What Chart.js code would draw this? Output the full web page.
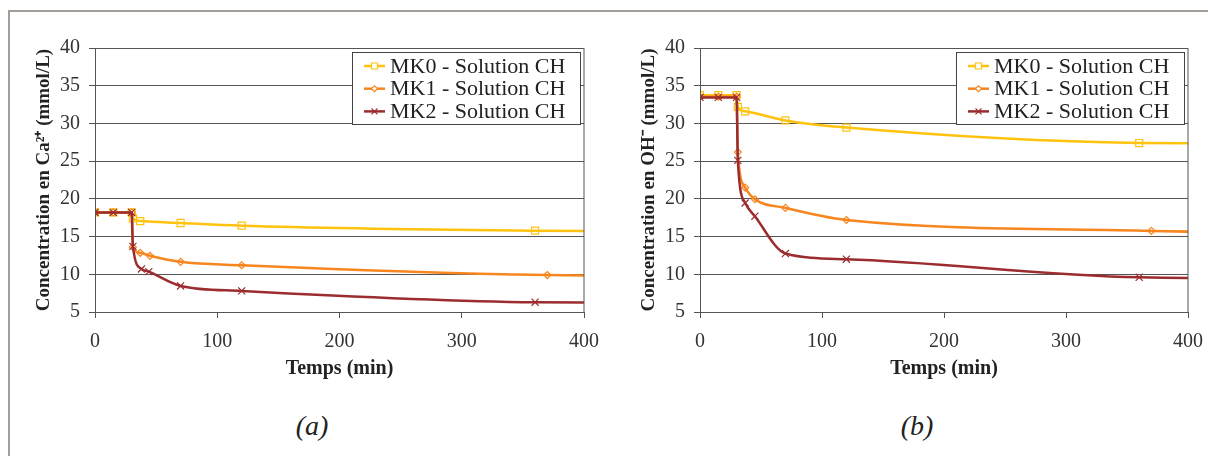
<!DOCTYPE html>
<html>
<head>
<meta charset="utf-8">
<script src="https://cdn.jsdelivr.net/npm/chart.js@4/dist/chart.umd.min.js"></script>
<style>
    body { margin: 0; background: #fff; width: 1208px; height: 456px; overflow: hidden; position: relative; font-family: 'Liberation Serif', serif; }
    .frame { position: absolute; left: 8px; top: 10px; width: 1220px; height: 460px; border-top: 2px solid #a59d97; border-left: 2px solid #a59d97; }
    canvas { position: absolute; top: 0; }
    .cap { position: absolute; top: 410px; width: 80px; text-align: center; font-style: italic; font-size: 28px; color: #222; }
</style>
</head>
<body>
<div class="frame"></div>
<canvas id="chartCa" width="604" height="400" style="left:0"></canvas>
<canvas id="chartOH" width="603" height="400" style="left:605px"></canvas>
<div class="cap" style="left:272px">(a)</div>
<div class="cap" style="left:877px">(b)</div>
<script>
const seriesLabels = ['MK0 - Solution CH', 'MK1 - Solution CH', 'MK2 - Solution CH'];
const seriesColors = ['#ffc20e', '#f7861f', '#9b2c2f'];
const pointStyles = ['rect', 'rectRot', 'crossRot'];
const pointRadii = [5, 3.5, 5];

// (a) Ca2+ (mmol/L) vs temps (min)
const caTimeMK0 = [0, 15, 30, 31, 37, 70, 120, 360, 1440];
const caMK0 = [18.2, 18.2, 18.2, 17.4, 17.05, 16.8, 16.45, 15.78, 14.8];
const caTimeMK1 = [0, 15, 30, 31, 37, 45, 70, 120, 370, 1440];
const caMK1 = [18.2, 18.2, 18.2, 13.6, 12.85, 12.45, 11.65, 11.2, 9.9, 8.9];
const caTimeMK2 = [0, 15, 30, 31, 38, 44, 70, 120, 360, 1440];
const caMK2 = [18.2, 18.2, 18.2, 13.7, 10.7, 10.35, 8.45, 7.8, 6.3, 5.6];

// (b) OH- (mmol/L) vs temps (min)
const ohTimeMK0 = [0, 15, 30, 31, 37, 70, 120, 360, 1440];
const ohMK0 = [33.75, 33.75, 33.75, 32.2, 31.6, 30.4, 29.45, 27.4, 26.6];
const ohTimeMK1 = [0, 15, 30, 31, 37, 45, 70, 120, 370, 1440];
const ohMK1 = [33.55, 33.55, 33.55, 26.2, 21.5, 19.95, 18.8, 17.2, 15.75, 12.5];
const ohTimeMK2 = [0, 15, 30, 31, 37, 45, 70, 120, 360, 1440];
const ohMK2 = [33.45, 33.45, 33.45, 25.1, 19.45, 17.7, 12.75, 12.0, 9.6, 8.6];

const xTicks = [0, 100, 200, 300, 400];
const yTicks = [5, 10, 15, 20, 25, 30, 35, 40];

const fontFamily = "'Liberation Serif', 'Times New Roman', serif";
const gridColor = '#555';

// plot border + legend box drawn on top of the chart
const boxPlugin = {
    id: 'boxPlugin',
    afterDraw(chart) {
        const ctx = chart.ctx;
        const a = chart.chartArea;
        ctx.save();
        ctx.strokeStyle = gridColor;
        ctx.lineWidth = 1;
        ctx.strokeRect(a.left + 0.5, a.top + 0.5, a.right - a.left - 0.5, a.bottom - a.top);

        const left = a.right - 232, top = a.top + 4, w = 228, h = 72;
        ctx.fillStyle = '#fff';
        ctx.fillRect(left, top, w, h);
        ctx.strokeStyle = '#444';
        ctx.strokeRect(left + 0.5, top + 0.5, w, h);

        ctx.font = '22px ' + fontFamily;
        ctx.textBaseline = 'middle';
        chart.data.datasets.forEach((ds, i) => {
            const y = top + 14 + i * 22.7;
            ctx.strokeStyle = ds.borderColor;
            ctx.lineWidth = 2.5;
            ctx.beginPath();
            ctx.moveTo(left + 12, y);
            ctx.lineTo(left + 33, y);
            ctx.stroke();
            ctx.lineWidth = 1.2;
            ctx.fillStyle = '#fff';
            Chart.helpers.drawPoint(ctx, {
                pointStyle: ds.pointStyle, radius: ds.pointRadius * 0.85,
                rotation: 0, borderWidth: 1.2
            }, left + 22.5, y);
            ctx.fillStyle = '#222';
            ctx.fillText(ds.label, left + 38, y + 1);
        });
        ctx.restore();
    }
};

function buildDatasets(xs, ys) {
    return xs.map((x, i) => ({
        label: seriesLabels[i],
        data: x.map((t, j) => ({ x: t, y: ys[i][j] })),
        borderColor: seriesColors[i],
        backgroundColor: 'rgba(255,255,255,0)',
        pointBorderColor: seriesColors[i],
        pointBackgroundColor: 'rgba(255,255,255,0)',
        pointStyle: pointStyles[i],
        pointRadius: pointRadii[i],
        pointBorderWidth: 1.2,
        borderWidth: 2.5,
        cubicInterpolationMode: 'monotone',
        order: 2 - i
    }));
}

function makeChart(id, datasets, yTitle) {
    return new Chart(document.getElementById(id), {
        type: 'line',
        data: { datasets: datasets },
        plugins: [boxPlugin],
        options: {
            responsive: false,
            animation: false,
            layout: { padding: { top: 48, right: 20, bottom: 0, left: 0 } },
            plugins: { legend: { display: false }, tooltip: { enabled: false } },
            scales: {
                x: {
                    type: 'linear', min: 0, max: 400,
                    afterFit: s => { s.height = 88; s.paddingLeft = 0; s.paddingRight = 0; },
                    afterBuildTicks: s => { s.ticks = xTicks.map(v => ({ value: v })); },
                    ticks: { padding: 12, color: '#333', maxRotation: 0, font: { family: fontFamily, size: 20 } },
                    grid: { drawOnChartArea: false, tickLength: 6, color: gridColor },
                    border: { color: gridColor, width: 1 },
                    title: {
                        display: true, text: 'Temps (min)', color: '#222',
                        font: { family: fontFamily, size: 20, weight: 'bold' },
                        padding: { top: 0, bottom: 19 }
                    }
                },
                y: {
                    min: 5, max: 40,
                    afterFit: s => { s.width = 95; s.paddingTop = 0; s.paddingBottom = 0; },
                    afterBuildTicks: s => { s.ticks = yTicks.map(v => ({ value: v })); },
                    ticks: { padding: 9, color: '#333', font: { family: fontFamily, size: 20 } },
                    grid: { tickLength: 6, color: gridColor },
                    border: { color: gridColor, width: 1 },
                    title: {
                        display: true, text: yTitle, color: '#222',
                        font: { family: fontFamily, size: 19, weight: 'bold' },
                        padding: { top: 33, bottom: 0 }
                    }
                }
            }
        }
    });
}

makeChart('chartCa',
    buildDatasets([caTimeMK0, caTimeMK1, caTimeMK2], [caMK0, caMK1, caMK2]),
    'Concentration en Ca²⁺ (mmol/L)');
makeChart('chartOH',
    buildDatasets([ohTimeMK0, ohTimeMK1, ohTimeMK2], [ohMK0, ohMK1, ohMK2]),
    'Concentration en OH⁻ (mmol/L)');
</script>
</body>
</html>
